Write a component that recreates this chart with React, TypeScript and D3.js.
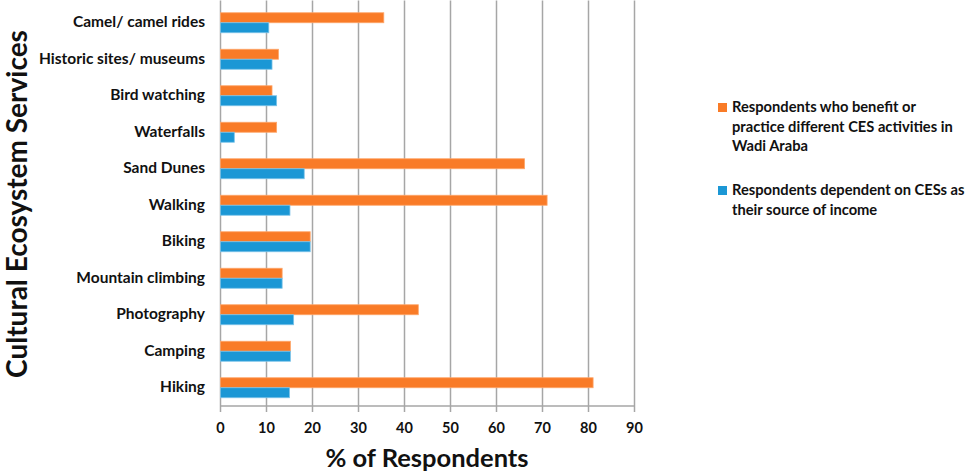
import React, { useEffect, useRef } from "react";
import * as d3 from "d3";

const categories = [
  "Camel/ camel rides",
  "Historic sites/ museums",
  "Bird watching",
  "Waterfalls",
  "Sand Dunes",
  "Walking",
  "Biking",
  "Mountain climbing",
  "Photography",
  "Camping",
  "Hiking",
];

const practiceValues = [35.5, 12.6, 11.2, 12.2, 66.1, 71.0, 19.5, 13.4, 43.0, 15.2, 81.0];
const incomeValues = [10.5, 11.2, 12.2, 3.0, 18.2, 15.1, 19.5, 13.4, 15.9, 15.2, 15.0];

const xTicks = [0, 10, 20, 30, 40, 50, 60, 70, 80, 90];

const seriesNames = ["practice", "income"];
const legendLines = [
  ["Respondents who benefit or", "practice different CES activities in", "Wadi Araba"],
  ["Respondents dependent on CESs as", "their source of income"],
];

const ORANGE = "#f97b27";
const BLUE = "#1b97d5";
const FONT = "Lato, 'Open Sans', sans-serif";

export default function App() {
  const svgRef = useRef(null);

  useEffect(() => {
    const svg = d3.select(svgRef.current);
    svg.selectAll("*").remove();

    const left = 220.5;
    const right = 634.5;
    const top = 4.5;
    const bottom = 406;

    const x = d3.scaleLinear().domain([0, 90]).range([left, right]);
    const y = d3.scaleBand().domain(categories).range([top, bottom]).padding(0);
    const inner = d3
      .scaleBand()
      .domain(seriesNames)
      .range([y.bandwidth() / 2 - 10, y.bandwidth() / 2 + 10]);

    // gridlines + ticks
    svg.append("g")
      .selectAll("line")
      .data(xTicks.slice(1))
      .join("line")
      .attr("x1", d => x(d))
      .attr("x2", d => x(d))
      .attr("y1", top - 4)
      .attr("y2", bottom + 6)
      .attr("stroke", "#a6a6a6")
      .attr("stroke-width", 1.5);

    // axis lines
    svg.append("line")
      .attr("x1", left).attr("x2", left)
      .attr("y1", top - 4).attr("y2", bottom + 6)
      .attr("stroke", "#a6a6a6").attr("stroke-width", 1.5);
    svg.append("line")
      .attr("x1", left).attr("x2", right)
      .attr("y1", bottom).attr("y2", bottom)
      .attr("stroke", "#a6a6a6").attr("stroke-width", 1.5);

    // bars
    const series = [
      { key: "practice", values: practiceValues, color: ORANGE, stroke: "#fda66a" },
      { key: "income", values: incomeValues, color: BLUE, stroke: "#7cc3e8" },
    ];
    series.forEach(s => {
      svg.append("g")
        .selectAll("rect")
        .data(categories)
        .join("rect")
        .attr("x", left)
        .attr("y", (c) => y(c) + inner(s.key))
        .attr("width", (c, i) => x(s.values[i]) - left)
        .attr("height", inner.bandwidth())
        .attr("fill", s.color)
        .attr("stroke", s.stroke)
        .attr("stroke-width", 0.8);
    });

    // category labels
    svg.append("g")
      .selectAll("text")
      .data(categories)
      .join("text")
      .attr("x", 205)
      .attr("y", c => y(c) + y.bandwidth() / 2 + 4.5)
      .attr("text-anchor", "end")
      .attr("font-family", FONT)
      .attr("font-weight", "bold")
      .attr("font-size", 15.5)
      .attr("fill", "#111")
      .text(c => c);

    // x tick labels
    svg.append("g")
      .selectAll("text")
      .data(xTicks)
      .join("text")
      .attr("x", d => x(d))
      .attr("y", 433)
      .attr("text-anchor", "middle")
      .attr("font-family", FONT)
      .attr("font-weight", "bold")
      .attr("font-size", 14.5)
      .attr("fill", "#111")
      .text(d => d);

    // axis titles
    svg.append("text")
      .attr("x", 427)
      .attr("y", 467)
      .attr("text-anchor", "middle")
      .attr("font-family", FONT)
      .attr("font-weight", "bold")
      .attr("font-size", 25.5)
      .attr("fill", "#111")
      .text("% of Respondents");

    svg.append("text")
      .attr("transform", "translate(27,204) rotate(-90)")
      .attr("text-anchor", "middle")
      .attr("font-family", FONT)
      .attr("font-weight", "bold")
      .attr("font-size", 28)
      .attr("fill", "#111")
      .text("Cultural Ecosystem Services");

    // legend
    const legendTops = [112, 195];
    const legendColors = [ORANGE, BLUE];
    legendLines.forEach((lines, i) => {
      const g = svg.append("g");
      g.append("rect")
        .attr("x", 718)
        .attr("y", legendTops[i] - 9)
        .attr("width", 9)
        .attr("height", 9)
        .attr("fill", legendColors[i]);
      g.selectAll("text")
        .data(lines)
        .join("text")
        .attr("x", 732)
        .attr("y", (d, j) => legendTops[i] + j * 19.5)
        .attr("font-family", FONT)
        .attr("font-weight", "bold")
        .attr("font-size", 14.7)
        .attr("fill", "#111")
        .text(d => d);
    });
  }, []);

  return (
    <svg
      ref={svgRef}
      width={969}
      height={475}
      style={{ position: "absolute", left: 0, top: 0, background: "#fff" }}
    ></svg>
  );
}
